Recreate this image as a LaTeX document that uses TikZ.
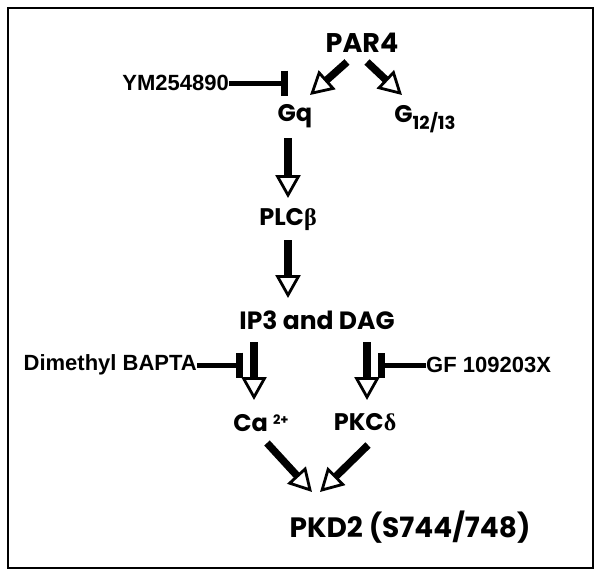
\documentclass[tikz,border=0pt]{standalone}
\usepackage{fontspec}
\setmainfont{Poppins}
\setsansfont{Liberation Sans}
\newfontfamily\grk{Liberation Serif}
\usetikzlibrary{arrows.meta}

\tikzset{
  act/.style={line width=7.5pt,-{Triangle[open,length=23pt,width=25pt,line width=2.8pt]}},
  inh/.style={line width=5pt,-{Bar[width=25pt,line width=7pt]}},
  mol/.style={inner sep=0pt,font=\bfseries\fontsize{24}{24}\selectfont},
  drug/.style={inner sep=0pt,font=\sffamily\bfseries\fontsize{22}{22}\selectfont},
}

\begin{document}
\begin{tikzpicture}[x=1pt,y=-1pt]
\useasboundingbox (0,0) rectangle (602,576);
\draw[line width=2.5pt] (8,8) rectangle (593,568);

% molecules
\node[mol,font=\bfseries\fontsize{27}{27}\selectfont] (par4) at (362,43) {PAR4};
\node[mol] (gq) at (295,116) {Gq};
\node[mol] (g12) at (425,119) {G\raisebox{-7pt}{\fontsize{18}{18}\selectfont 12/13}};
\node[mol] (plc) at (288,220) {PLC{\grk β}};
\node[mol,font=\bfseries\fontsize{25}{25}\selectfont] (ip3) at (317,320) {IP3 and DAG};
\node[mol] (ca) at (261,423) {Ca \raisebox{7pt}{\fontsize{13}{13}\selectfont 2+}};
\node[mol] (pkc) at (365,422) {PKC{\grk δ}};
\node[mol,font=\bfseries\fontsize{28}{28}\selectfont] (pkd) at (410,527) {PKD2 (S744/748)};

% inhibitors
\node[drug,anchor=east] (ym) at (229,83) {YM254890};
\node[drug,anchor=east] (dmb) at (197,365) {Dimethyl BAPTA};
\node[drug,anchor=west] (gf) at (426,365) {GF 109203X};
\coordinate (ymbar) at (288,83);
\coordinate (dmbbar) at (243,365);
\coordinate (gfbar) at (378,365);

% activation
\draw[act] ([shift={(-15,19)}]par4.center) -- ([shift={(15,-21)}]gq.center);
\draw[act] ([shift={(5,19)}]par4.center) -- ([shift={(-23,-24)}]g12.center);
\draw[act] ([shift={(-7,22)}]gq.center) -- ([shift={(0,-22)}]plc.center);
\draw[act] ([shift={(0,20)}]plc.center) -- ([shift={(-29,-22)}]ip3.center);
\draw[act] ([shift={(-63,22)}]ip3.center) -- ([shift={(-7,-23)}]ca.center);
\draw[act] ([shift={(50,22)}]ip3.center) -- ([shift={(2,-22)}]pkc.center);
\draw[act] ([shift={(6,20)}]ca.center) -- ([shift={(-98,-35)}]pkd.center);
\draw[act] ([shift={(3,23)}]pkc.center) -- ([shift={(-90,-35)}]pkd.center);

% inhibition
\draw[inh] (ym.east) -- (ymbar);
\draw[inh] (dmb.east) -- (dmbbar);
\draw[inh] (gf.west) -- (gfbar);
\end{tikzpicture}
\end{document}
